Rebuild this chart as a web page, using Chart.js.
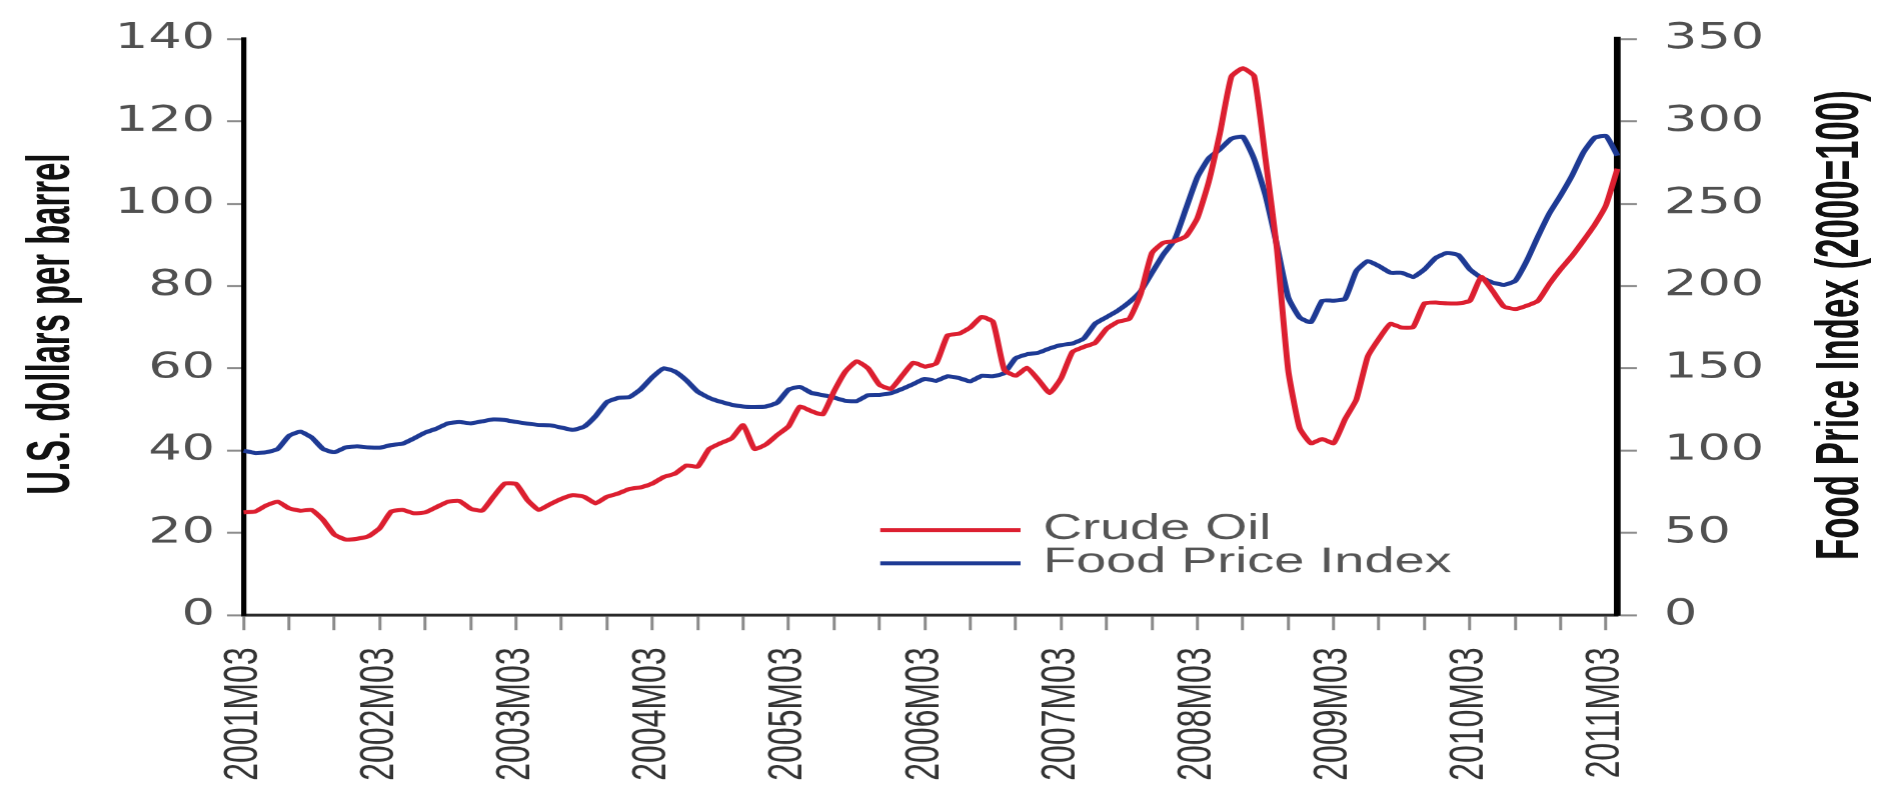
<!DOCTYPE html>
<html><head><meta charset="utf-8">
<script src="https://cdn.jsdelivr.net/npm/chart.js@4.4.1/dist/chart.umd.min.js"></script>
<style>
html,body{margin:0;padding:0;background:#fff;overflow:hidden;}
#wrap{position:absolute;left:0;top:0;width:1251px;height:787px;transform:scaleX(1.5004);transform-origin:0 0;}
canvas{display:block;}
</style></head><body>
<div id="wrap"><canvas id="c" width="1251" height="787"></canvas></div>
<script>
// ---- categories (monthly, 2001M03 .. 2011M04) ----
const months = [];
for (let y = 2001, m = 3; months.length < 122; ) {
  months.push(y + 'M' + String(m).padStart(2, '0'));
  m++; if (m > 12) { m = 1; y++; }
}
const yearTickLabels = ['2001M03','2002M03','2003M03','2004M03','2005M03','2006M03','2007M03','2008M03','2009M03','2010M03','2011M03'];

// ---- series ----
const crudeOil = [
  25.0,25.2,26.7,27.6,26.0,25.4,25.6,23.2,19.6,18.4,
  18.6,19.2,21.2,25.2,25.6,24.8,25.0,26.3,27.6,27.8,
  25.9,25.4,28.8,32.0,31.9,28.0,25.6,27.0,28.3,29.2,
  28.8,27.2,28.8,29.6,30.7,31.1,32.0,33.6,34.4,36.4,
  36.1,40.4,41.8,43.0,46.2,40.4,41.5,43.8,45.9,50.7,
  49.6,48.8,54.4,59.2,61.7,60.0,56.0,55.0,58.2,61.4,
  60.4,61.2,68.0,68.4,69.9,72.5,71.3,59.6,58.2,60.1,
  57.2,54.0,57.6,64.0,65.2,66.2,69.6,71.3,72.0,78.0,
  88.0,90.5,90.9,92.1,96.5,105.3,117.3,130.9,132.9,131.0,
  110.9,89.3,59.6,45.5,41.8,42.8,41.8,47.6,52.4,62.8,
  67.2,70.8,69.9,70.0,75.8,76.0,75.8,75.8,76.4,82.2,
  78.8,75.0,74.4,75.2,76.4,80.5,84.1,87.3,91.0,94.9,
  99.7,108.5
];
const foodIndex = [
  100,98.6,99,101,109,111.5,108,101,99,102,
  102.6,102,101.8,103.4,104.2,107.4,111,113.4,116.6,117.4,
  116.6,117.8,119,118.6,117.4,116.4,115.6,115.4,114,112.6,
  114.6,121,129.5,132,132.6,137.4,144.6,150,148,142.7,
  135.8,132.1,129.7,127.9,126.8,126.6,126.8,129.1,137.1,138.7,
  135.1,133.7,132.2,130.3,130.1,133.7,133.9,134.9,137.5,140.5,
  143.6,142.4,145.1,144.1,142.1,145.4,145.1,147.1,156.1,158.5,
  159.5,162.1,164.1,165.1,168.1,177.1,181.1,185.1,190.1,196.7,
  208,219.1,228.1,247.1,266.1,277.5,283.1,289.5,290.7,277.1,
  255.1,225.1,193.1,181,178,191.1,191.1,192.1,209.1,215.1,
  212.1,208.1,208.1,205.5,210.1,217.1,220.1,218.7,210.1,205.1,
  202.1,200.7,203.1,215.1,230.1,244.1,255.1,267.1,281.1,290.1,
  291.1,279.1
];
const seriesNames = ['Crude Oil', 'Food Price Index'];
const leftTitle = 'U.S. dollars per barrel';
const rightTitle = 'Food Price Index (2000=100)';

const NARROW = "'Liberation Sans Narrow', 'Arial Narrow', 'Liberation Sans', Arial, sans-serif";
const RED = '#dc1f30';
const BLUE = '#1e3a94';

const legendPlugin = {
  id: 'customLegend',
  afterDatasetsDraw(chart) {
    const ctx = chart.ctx;
    ctx.save();
    const rows = [530, 563];
    chart.data.datasets.forEach((ds, i) => {
      const y = rows[i];
      ctx.strokeStyle = ds.borderColor;
      ctx.lineWidth = 4;
      ctx.beginPath(); ctx.moveTo(586.5, y); ctx.lineTo(680, y); ctx.stroke();
      ctx.fillStyle = '#555';
      ctx.font = "36px 'Liberation Sans', Arial, sans-serif";
      ctx.textAlign = 'left'; ctx.textBaseline = 'middle';
      ctx.fillText(ds.label, 695, y - 1);
    });
    ctx.restore();
  }
};
function drawVerticalTitle(ctx, text, x, y, squeeze) {
  ctx.save();
  ctx.translate(x, y);
  ctx.rotate(-Math.PI / 2);
  ctx.scale(squeeze, 1);
  ctx.fillStyle = '#111';
  ctx.font = "bold 41px " + NARROW;
  ctx.textAlign = 'center'; ctx.textBaseline = 'alphabetic';
  ctx.fillText(text, 0, 0);
  ctx.restore();
}
const titlesPlugin = {
  id: 'axisTitles',
  afterDraw(chart) {
    const a = chart.chartArea;
    const cy = (a.top + a.bottom) / 2;
    drawVerticalTitle(chart.ctx, leftTitle, 46, cy - 3, 0.8);
    drawVerticalTitle(chart.ctx, rightTitle, 1238, cy - 2, 0.85);
  }
};

new Chart(document.getElementById('c'), {
  type: 'line',
  data: {
    labels: months,
    datasets: [
      { label: seriesNames[0], data: crudeOil, yAxisID: 'y', borderColor: RED, borderWidth: 4, pointRadius: 0, tension: 0.15, fill: false },
      { label: seriesNames[1], data: foodIndex, yAxisID: 'y1', borderColor: BLUE, borderWidth: 4, pointRadius: 0, tension: 0.15, fill: false }
    ]
  },
  options: {
    responsive: false,
    animation: false,
    devicePixelRatio: 1.5,
    layout: { padding: { top: 32, left: 0, right: 0, bottom: 0 } },
    plugins: { legend: { display: false }, tooltip: { enabled: false } },
    scales: {
      x: {
        type: 'category',
        offset: false,
        afterFit(s) { s.height = 172; },
        border: { display: true, color: '#2a2a2a', width: 3 },
        grid: {
          drawOnChartArea: false, drawTicks: true, tickLength: 15, tickWidth: 2,
          tickColor: (c) => (c.index % 4 === 0 ? '#8a8a8a' : 'rgba(0,0,0,0)')
        },
        ticks: {
          autoSkip: false, maxRotation: 90, minRotation: 90, padding: 17,
          color: '#333',
          font: { family: "'Liberation Sans', Arial, sans-serif", size: 32 },
          callback: (v, i) => (yearTickLabels.includes(months[i]) ? months[i] : '')
        }
      },
      y: {
        position: 'left', min: 0, max: 140,
        afterFit(s) { s.width = 162.3; },
        border: { display: true, color: '#000', width: 3.5 },
        grid: { drawOnChartArea: false, drawTicks: true, tickLength: 11, tickWidth: 2, tickColor: '#8a8a8a' },
        ticks: { stepSize: 20, padding: 8, color: '#505050', font: { family: "'DejaVu Sans', sans-serif", size: 35 } }
      },
      y1: {
        position: 'right', min: 0, max: 350,
        afterFit(s) { s.width = 173.3; },
        border: { display: true, color: '#000', width: 4.5 },
        grid: { drawOnChartArea: false, drawTicks: true, tickLength: 13, tickWidth: 2, tickColor: '#8a8a8a' },
        ticks: { stepSize: 50, padding: 18, color: '#505050', font: { family: "'DejaVu Sans', sans-serif", size: 35 } }
      }
    }
  },
  plugins: [legendPlugin, titlesPlugin]
});
</script>
</body></html>
